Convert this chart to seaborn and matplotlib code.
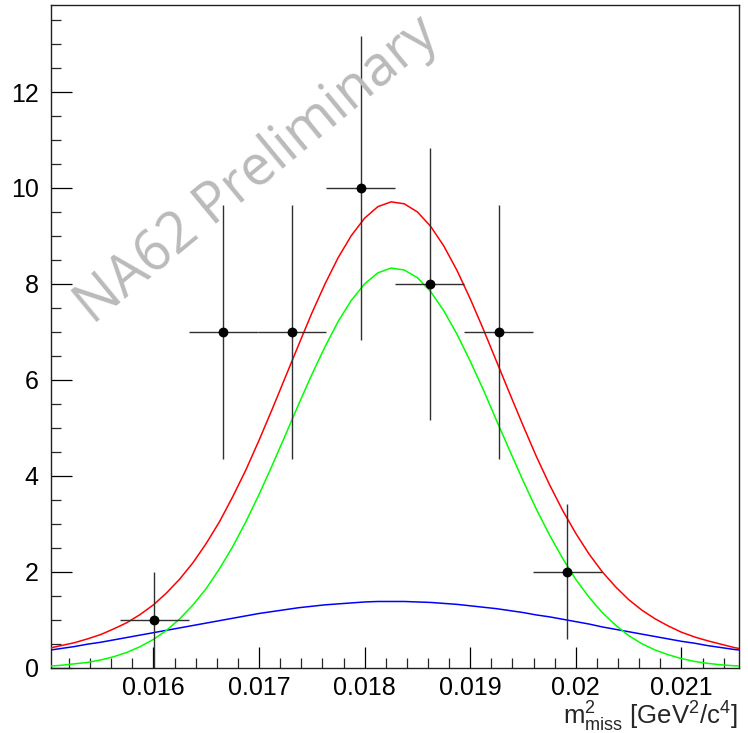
import numpy as np
import pandas as pd
import matplotlib
matplotlib.use("Agg")
import matplotlib.pyplot as plt
import seaborn as sns

# ---------------- data ----------------
bin_centers = [0.016008, 0.016660, 0.017312, 0.017964, 0.018616, 0.019268, 0.019920]
counts = [1, 7, 7, 10, 8, 7, 2]
count_errors = [1.00, 2.65, 2.65, 3.16, 2.83, 2.65, 1.41]
half_bin_width = 0.000326

curve_x_start = 0.01500
curve_x_step = 0.000125
green_curve = [0.03, 0.05, 0.08, 0.11, 0.16, 0.23, 0.32, 0.44, 0.59, 0.78, 1.02, 1.31, 1.65, 2.06,
               2.52, 3.04, 3.61, 4.22, 4.85, 5.49, 6.11, 6.69, 7.22, 7.66, 8.00, 8.23, 8.33,
               8.29, 8.13, 7.84, 7.44, 6.95, 6.39, 5.79, 5.15, 4.52, 3.90, 3.31, 2.77, 2.28,
               1.84, 1.47, 1.15, 0.89, 0.67, 0.50, 0.37, 0.27, 0.19, 0.13, 0.09, 0.06, 0.04, 0.03]
blue_curve = [0.36, 0.40, 0.44, 0.49, 0.53, 0.58, 0.63, 0.68, 0.73, 0.78, 0.83, 0.88, 0.93, 0.98,
              1.03, 1.08, 1.13, 1.17, 1.21, 1.25, 1.28, 1.31, 1.33, 1.35, 1.37, 1.38, 1.38,
              1.38, 1.37, 1.36, 1.34, 1.32, 1.29, 1.26, 1.23, 1.19, 1.15, 1.10, 1.06, 1.01,
              0.96, 0.91, 0.85, 0.80, 0.75, 0.70, 0.65, 0.60, 0.55, 0.51, 0.46, 0.42, 0.38, 0.35]
red_curve = [0.40, 0.46, 0.52, 0.60, 0.69, 0.81, 0.94, 1.11, 1.31, 1.56, 1.85, 2.19, 2.59, 3.04,
             3.56, 4.12, 4.74, 5.39, 6.06, 6.73, 7.39, 8.00, 8.55, 9.01, 9.37, 9.61, 9.71,
             9.67, 9.50, 9.20, 8.79, 8.28, 7.69, 7.05, 6.38, 5.71, 5.05, 4.41, 3.82, 3.28,
             2.80, 2.37, 2.00, 1.69, 1.42, 1.20, 1.02, 0.87, 0.74, 0.64, 0.56, 0.49, 0.42, 0.37]

x_ticks = [0.016, 0.017, 0.018, 0.019, 0.020, 0.021]
x_tick_labels = ["0.016", "0.017", "0.018", "0.019", "0.02", "0.021"]
y_ticks = [0, 2, 4, 6, 8, 10, 12]
y_tick_labels = ["0", "2", "4", "6", "8", "10", "12"]
x_range = (0.01503, 0.02155)
y_range = (0.0, 13.82)
x_label = r"$\mathrm{m}^{2}_{\mathrm{miss}}$ [GeV$^{2}$/c$^{4}$]"
watermark = "NA62 Preliminary"

# ---------------- style ----------------
sns.set_style("white")
plt.rcParams["font.family"] = ["Liberation Sans", "DejaVu Sans"]
plt.rcParams["mathtext.fontset"] = "custom"
plt.rcParams["mathtext.rm"] = "Liberation Sans"
plt.rcParams["mathtext.it"] = "Liberation Sans:italic"
plt.rcParams["mathtext.bf"] = "Liberation Sans:bold"

fig = plt.figure(figsize=(7.48, 7.33), dpi=100)
ax = fig.add_axes([0.0682, 0.0891, 0.9886 - 0.0682, 0.9936 - 0.0891])

n = len(green_curve)
curve_x = curve_x_start + curve_x_step * np.arange(n)
curves = pd.DataFrame({
    "x": np.concatenate([curve_x] * 3),
    "y": red_curve + green_curve + blue_curve,
    "comp": ["total"] * n + ["signal"] * n + ["background"] * n,
})

# watermark (behind everything)
fig.text(0.1250, 0.5570, watermark, family=["Open Sans", "DejaVu Sans"], fontsize=40,
         color="#bababa", rotation=39.5, rotation_mode="anchor", ha="left", va="baseline",
         zorder=0)
ax.set_facecolor("none")

sns.lineplot(data=curves, x="x", y="y", hue="comp", sort=False, estimator=None,
             palette={"total": "#ff0000", "signal": "#00ff00", "background": "#0000ff"},
             hue_order=["background", "signal", "total"],
             linewidth=1.1, legend=False, ax=ax, zorder=3)

ax.errorbar(bin_centers, counts, yerr=count_errors, xerr=half_bin_width, fmt="none",
            ecolor="#303030", elinewidth=1.0, capsize=0, zorder=4)
pts = pd.DataFrame({"x": bin_centers, "y": counts})
sns.scatterplot(data=pts, x="x", y="y", color="black", s=50, edgecolor="black",
                linewidth=0, ax=ax, zorder=5)

ax.set_xlim(*x_range)
ax.set_ylim(*y_range)
ax.set_xticks(x_ticks)
ax.set_xticklabels(x_tick_labels)
ax.set_yticks(y_ticks)
ax.set_yticklabels(y_tick_labels)
ax.xaxis.set_minor_locator(matplotlib.ticker.MultipleLocator(0.0002))
ax.yaxis.set_minor_locator(matplotlib.ticker.MultipleLocator(0.5))
ax.tick_params(axis="both", which="major", direction="in", length=15, width=0.9,
               labelsize=18, colors="black")
ax.tick_params(axis="both", which="minor", direction="in", length=7.5, width=0.9)
ax.tick_params(axis="x", which="both", top=False, bottom=True, pad=6)
ax.tick_params(axis="y", which="both", left=True, right=False, pad=9)
for s in ax.spines.values():
    s.set_visible(True)
    s.set_color("#202020")
    s.set_linewidth(1.0)

ax.set_ylabel("")
ax.set_xlabel(x_label, fontsize=18.5, labelpad=0)
ax.xaxis.set_label_coords(0.997, -0.048)
ax.xaxis.label.set_horizontalalignment("right")
ax.xaxis.label.set_verticalalignment("top")

fig.savefig("out.png", dpi=100)
